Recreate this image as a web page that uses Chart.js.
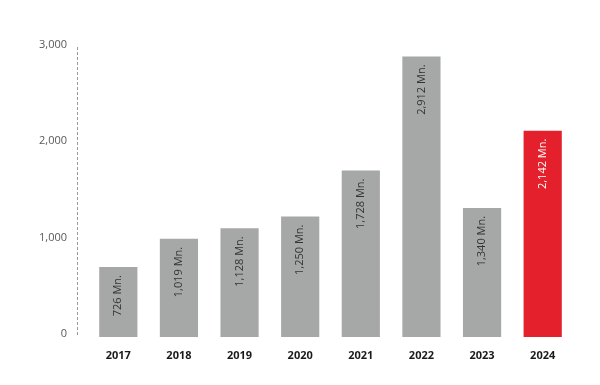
<!DOCTYPE html>
<html>
<head>
<meta charset="utf-8">
<script src="https://cdn.jsdelivr.net/npm/chart.js@4/dist/chart.umd.min.js"></script>
<style>
    html, body { margin: 0; padding: 0; background: #fff; }
    #wrap { width: 600px; height: 385px; }
</style>
</head>
<body>
<div id="wrap"><canvas id="salesChart" width="600" height="385"></canvas></div>
<script>
// Chart data
const years = ['2017', '2018', '2019', '2020', '2021', '2022', '2023', '2024'];
const revenue = [726, 1019, 1128, 1250, 1728, 2912, 1340, 2142];
const valueLabels = ['726 Mn.', '1,019 Mn.', '1,128 Mn.', '1,250 Mn.', '1,728 Mn.', '2,912 Mn.', '1,340 Mn.', '2,142 Mn.'];
const yTicks = [0, 1000, 2000, 3000];

const GREY = '#a6a8a8';
const RED = '#e3202c';
const FONT = "'Open Sans', 'DejaVu Sans', sans-serif";

// Rotated labels inside the top of each bar + dashed axis line
const barLabels = {
    id: 'barLabels',
    beforeDatasetsDraw(chart) {
        const ctx = chart.ctx;
        const area = chart.chartArea;
        const y = chart.scales.y;
        ctx.save();
        ctx.strokeStyle = '#9a9a9a';
        ctx.lineWidth = 1;
        ctx.setLineDash([3, 2]);
        ctx.beginPath();
        ctx.moveTo(Math.round(area.left - 11) + 0.5, y.getPixelForValue(3000) - 1);
        ctx.lineTo(Math.round(area.left - 11) + 0.5, area.bottom);
        ctx.stroke();
        ctx.restore();
    },
    afterDatasetsDraw(chart) {
        const ctx = chart.ctx;
        const meta = chart.getDatasetMeta(0);
        ctx.save();
        ctx.font = '11px ' + FONT;
        ctx.textAlign = 'right';
        ctx.textBaseline = 'middle';
        meta.data.forEach((bar, i) => {
            ctx.save();
            ctx.translate(bar.x, bar.y + 8);
            ctx.rotate(-Math.PI / 2);
            ctx.fillStyle = i === years.length - 1 ? '#ffffff' : '#333333';
            ctx.fillText(valueLabels[i], 0, 0);
            ctx.restore();
        });
        ctx.restore();
    }
};

new Chart(document.getElementById('salesChart'), {
    type: 'bar',
    data: {
        labels: years,
        datasets: [{
            data: revenue,
            backgroundColor: years.map((y, i) => i === years.length - 1 ? RED : GREY),
            borderWidth: 0,
            barPercentage: 0.63,
            categoryPercentage: 1
        }]
    },
    options: {
        responsive: false,
        animation: false,
        layout: { padding: { left: 28, right: 27, top: 48, bottom: 19 } },
        plugins: {
            legend: { display: false },
            tooltip: { enabled: false }
        },
        scales: {
            x: {
                grid: { display: false },
                border: { display: false },
                ticks: {
                    color: '#1a1a1a',
                    padding: 4,
                    font: { family: FONT, size: 11, weight: 'bold' }
                },
                afterFit: (s) => { s.height = 29; }
            },
            y: {
                min: 0,
                max: 3000,
                grid: { display: false, drawTicks: false },
                border: { display: false },
                afterBuildTicks: (s) => { s.ticks = yTicks.map(v => ({ value: v })); },
                afterFit: (s) => { s.width = 60; },
                ticks: {
                    color: '#595959',
                    padding: 21,
                    labelOffset: -3,
                    font: { family: FONT, size: 11 },
                    callback: (v) => v.toLocaleString('en-US')
                }
            }
        }
    },
    plugins: [barLabels]
});
</script>
</body>
</html>
